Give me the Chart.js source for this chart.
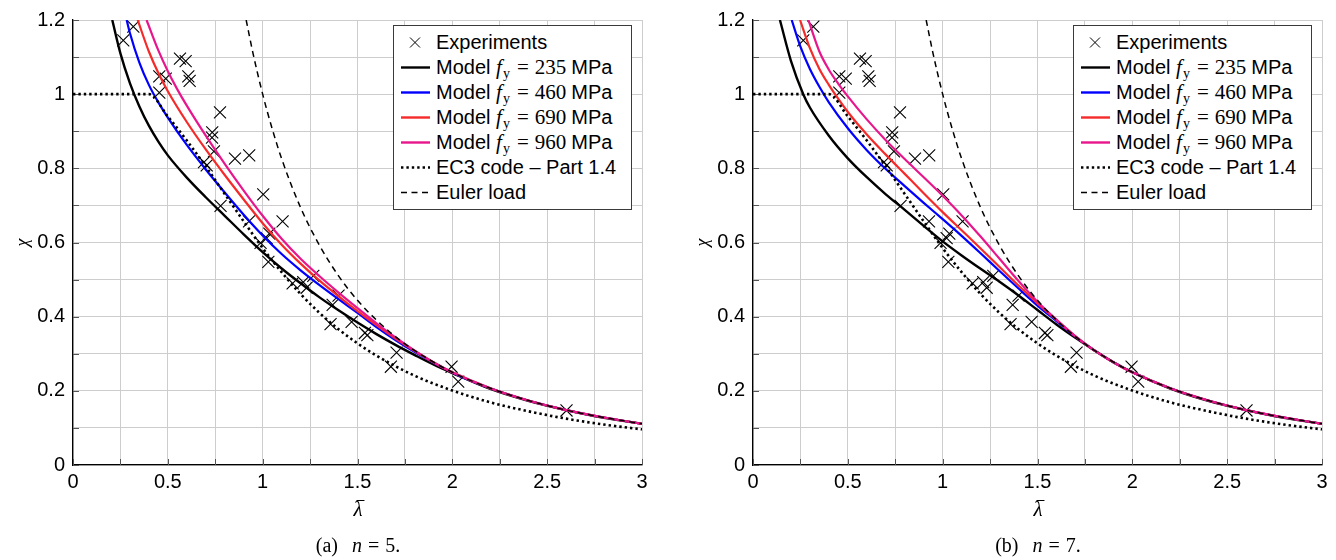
<!DOCTYPE html>
<html><head><meta charset="utf-8">
<script src="https://cdn.jsdelivr.net/npm/chart.js@4.4.1/dist/chart.umd.min.js"></script>
<style>
html,body{margin:0;padding:0;background:#fff}
body{width:1336px;height:560px;overflow:hidden;position:relative;font-family:'Liberation Sans',Arial,sans-serif;color:#000}
.wrap{position:absolute;top:0;height:560px}
.legend{position:absolute;top:25px;width:237px;height:183px;border:1px solid #3a3a3a;background:#fff}
.row{position:absolute;left:0;height:25px;line-height:25px;font-size:20px;white-space:nowrap}
.row svg{position:absolute;left:0;top:0}
.row .t{position:absolute;left:42px;top:0}
.m{font-family:'Liberation Serif','DejaVu Serif',serif;font-size:21px}
.m sub{font-size:14px;vertical-align:-4px;line-height:0;margin-left:1px}
.m .eq{margin:0 6px 0 7px}
.mpa{margin-left:5px}
.cap{position:absolute;top:534px;font-family:'Liberation Serif',serif;font-size:20px;line-height:22px;transform:translateX(-50%);white-space:nowrap}
.cap .n{margin-left:14px}
.cap .ceq{margin:0 6px}
.xt{position:absolute;top:497px;transform:translateX(-50%);font-family:'Liberation Serif',serif;font-style:italic;font-size:21px;line-height:24px}
.lam{position:relative;display:inline-block}
.bar{position:absolute;left:3px;width:8px;top:3px;border-top:1.3px solid #000}
</style></head>
<body>
<div class="wrap" id="w1" style="left:0;width:680px"><canvas id="c1" width="680" height="560"></canvas></div>
<div class="wrap" id="w2" style="left:680px;width:656px"><canvas id="c2" width="656" height="560"></canvas></div>
<div class="xt" style="left:358px"><span class="lam">λ<span class="bar"></span></span></div>
<div class="xt" style="left:1038px"><span class="lam">λ<span class="bar"></span></span></div>
<div class="cap" style="left:358px">(a)<i class="n">n</i><span class="ceq">=</span>5.</div>
<div class="cap" style="left:1038px">(b)<i class="n">n</i><span class="ceq">=</span>7.</div>
<script>
// ---- axis ticks ----
const xGrid = [0,0.25,0.5,0.75,1,1.25,1.5,1.75,2,2.25,2.5,2.75,3];
const yGrid = [0,0.1,0.2,0.3,0.4,0.5,0.6,0.7,0.8,0.9,1,1.1,1.2];
const xTickValues = [0,0.5,1,1.5,2,2.5,3];
const xTickLabels = ['0','0.5','1','1.5','2','2.5','3'];
const yTickValues = [0,0.2,0.4,0.6,0.8,1,1.2];
const yTickLabels = ['0','0.2','0.4','0.6','0.8','1','1.2'];

// ---- experiments (same in both panels) ----
const expLambda = [0.265,0.318,0.564,0.594,0.455,0.489,0.608,0.615,0.455,0.775,0.734,0.733,0.743,0.691,0.705,0.854,0.929,0.778,1.003,1.105,0.928,1.035,1.021,0.989,1.03,1.158,1.214,1.232,1.267,1.369,1.358,1.4,1.469,1.539,1.552,1.706,1.676,1.996,2.031,2.602];
const expChi    = [1.145,1.182,1.096,1.089,1.048,1.042,1.048,1.036,1.004,0.951,0.897,0.883,0.846,0.817,0.808,0.826,0.835,0.699,0.73,0.657,0.657,0.624,0.612,0.599,0.548,0.49,0.493,0.478,0.51,0.432,0.38,0.457,0.386,0.356,0.35,0.303,0.265,0.265,0.225,0.147];

// ---- EC3 code - Part 1.4 ----
const ec3Lambda = [0,0.4,0.5,0.6,0.7,0.8,0.9,1.0,1.1,1.2,1.3,1.4,1.5,1.6,1.8,2.0,2.2,2.4,2.6,2.8,3.0];
const ec3Chi    = [1,1,0.94,0.875,0.805,0.731,0.657,0.585,0.52,0.461,0.41,0.366,0.328,0.295,0.241,0.201,0.169,0.145,0.125,0.109,0.096];

// ---- Euler load ----
const eulerLambda = [0.913,0.95,1.0,1.05,1.1,1.2,1.3,1.4,1.5,1.6,1.7,1.8,2.0,2.2,2.4,2.6,2.8,3.0];
const eulerChi    = [1.2,1.108,1.0,0.907,0.826,0.694,0.592,0.51,0.444,0.391,0.346,0.309,0.25,0.207,0.174,0.148,0.128,0.111];

// ---- Models, n = 5 ----
const n5BlackLambda = [0.207,0.25,0.3,0.35,0.4,0.45,0.5,0.6,0.7,0.8,0.9,1.0,1.1,1.2,1.3,1.4,1.5,1.6,1.7,1.8,1.9,2.0,2.2,2.4,2.6,2.8,3.0];
const n5BlackChi    = [1.2,1.11,1.03,0.967,0.915,0.872,0.835,0.775,0.722,0.672,0.622,0.574,0.53,0.49,0.452,0.417,0.384,0.353,0.324,0.297,0.271,0.248,0.205,0.173,0.148,0.127,0.111];
const n5BlueLambda  = [0.283,0.3,0.35,0.4,0.45,0.5,0.6,0.7,0.8,0.9,1.0,1.1,1.2,1.3,1.4,1.5,1.6,1.7,1.8,1.9,2.0,2.2,2.4,2.6,2.8,3.0];
const n5BlueChi     = [1.2,1.165,1.085,1.025,0.978,0.937,0.863,0.797,0.735,0.675,0.619,0.569,0.525,0.485,0.447,0.41,0.372,0.337,0.305,0.276,0.249,0.207,0.174,0.148,0.128,0.111];
const n5RedLambda   = [0.341,0.4,0.45,0.5,0.6,0.7,0.8,0.9,1.0,1.1,1.2,1.3,1.4,1.5,1.6,1.7,1.8,1.9,2.0,2.2,2.4,2.6,2.8,3.0];
const n5RedChi      = [1.2,1.115,1.057,1.008,0.925,0.851,0.782,0.716,0.652,0.594,0.543,0.497,0.455,0.415,0.377,0.341,0.308,0.277,0.25,0.207,0.174,0.148,0.128,0.111];
const n5PinkLambda  = [0.388,0.45,0.5,0.55,0.6,0.7,0.8,0.9,1.0,1.1,1.2,1.3,1.4,1.5,1.6,1.7,1.8,1.9,2.0,2.2,2.4,2.6,2.8,3.0];
const n5PinkChi     = [1.2,1.118,1.062,1.013,0.969,0.888,0.812,0.74,0.672,0.61,0.556,0.509,0.465,0.423,0.382,0.344,0.309,0.277,0.25,0.207,0.174,0.148,0.128,0.111];

// ---- Models, n = 7 ----
const n7BlackLambda = [0.142,0.2,0.265,0.3,0.4,0.5,0.6,0.7,0.8,0.9,1.0,1.1,1.2,1.3,1.4,1.5,1.6,1.7,1.8,1.9,2.0,2.2,2.4,2.6,2.8,3.0];
const n7BlackChi    = [1.2,1.09,1.0,0.964,0.888,0.827,0.776,0.73,0.688,0.645,0.603,0.565,0.529,0.494,0.457,0.418,0.379,0.343,0.309,0.277,0.25,0.206,0.173,0.148,0.127,0.111];
const n7BlueLambda  = [0.204,0.25,0.3,0.35,0.4,0.5,0.6,0.7,0.8,0.9,1.0,1.1,1.2,1.3,1.4,1.5,1.6,1.7,1.8,1.9,2.0,2.2,2.4,2.6,2.8,3.0];
const n7BlueChi     = [1.2,1.128,1.068,1.02,0.978,0.908,0.849,0.798,0.752,0.707,0.663,0.618,0.571,0.523,0.476,0.43,0.388,0.346,0.309,0.277,0.25,0.207,0.174,0.148,0.128,0.111];
const n7RedLambda   = [0.248,0.3,0.35,0.4,0.45,0.5,0.6,0.7,0.8,0.9,1.0,1.1,1.2,1.3,1.4,1.5,1.6,1.7,1.8,1.9,2.0,2.2,2.4,2.6,2.8,3.0];
const n7RedChi      = [1.2,1.124,1.068,1.025,0.987,0.952,0.891,0.837,0.785,0.733,0.682,0.633,0.584,0.534,0.484,0.436,0.391,0.347,0.309,0.277,0.25,0.207,0.174,0.148,0.128,0.111];
const n7PinkLambda  = [0.292,0.35,0.4,0.45,0.5,0.6,0.7,0.8,0.9,1.0,1.1,1.2,1.3,1.4,1.5,1.6,1.7,1.8,1.9,2.0,2.2,2.4,2.6,2.8,3.0];
const n7PinkChi     = [1.2,1.115,1.066,1.028,0.994,0.932,0.876,0.825,0.776,0.726,0.673,0.616,0.556,0.496,0.44,0.392,0.347,0.309,0.277,0.25,0.207,0.174,0.148,0.128,0.111];

// ---- legend ----
const fyValues = ['235','460','690','960'];
const modelColors = ['#000000','#0000ff','#f52a2a','#e8168c'];

function pts(xs, ys){ return xs.map((x,i)=>({x:x, y:ys[i]})); }
function lab(v, vals, labs){ const i = vals.findIndex(t=>Math.abs(t-v)<1e-6); return i>=0 ? labs[i] : ''; }
function curve(label, xs, ys, color, width, dash, order){
  return {label, data: pts(xs,ys), borderColor: color, backgroundColor: color, borderWidth: width,
    borderDash: dash || [], pointRadius: 0, pointHoverRadius: 0, cubicInterpolationMode: 'monotone',
    fill: false, order, borderCapStyle: 'butt'};
}

const innerTicks = {
  id: 'innerTicks',
  beforeDatasetsDraw(chart){
    const {ctx, chartArea:a, scales:{x, y}} = chart;
    ctx.save(); ctx.strokeStyle = '#555'; ctx.lineWidth = 1;
    ctx.beginPath();
    xGrid.forEach(v=>{ const px = Math.round(x.getPixelForValue(v))+0.5; ctx.moveTo(px, a.bottom); ctx.lineTo(px, a.bottom-6); });
    yGrid.forEach(v=>{ const py = Math.round(y.getPixelForValue(v))+0.5; ctx.moveTo(a.left, py); ctx.lineTo(a.left+6, py); });
    ctx.stroke(); ctx.restore();
  }
};

function makeChart(id, padRight, models){
  const datasets = [
    {label:'Experiments', data: pts(expLambda, expChi), showLine:false, pointStyle:'crossRot',
     pointRadius:8.5, pointBorderColor:'#000', pointBorderWidth:1.1, borderColor:'#000', order:7},
    curve('Model 235', models[0][0], models[0][1], modelColors[0], 2.4, null, 6),
    curve('Model 460', models[1][0], models[1][1], modelColors[1], 2.2, null, 5),
    curve('Model 690', models[2][0], models[2][1], modelColors[2], 2.2, null, 4),
    curve('Model 960', models[3][0], models[3][1], modelColors[3], 2.2, null, 3),
    curve('EC3 code – Part 1.4', ec3Lambda, ec3Chi, '#000', 2.6, [2.4,3.0], 2),
    curve('Euler load', eulerLambda, eulerChi, '#000', 1.5, [6,4.5], 1)
  ];
  return new Chart(document.getElementById(id), {
    type:'line',
    data:{datasets},
    options:{
      responsive:false, animation:false, devicePixelRatio:1,
      layout:{padding:{left:0, right:padRight, top:16, bottom:35}},
      plugins:{legend:{display:false}, tooltip:{enabled:false}},
      scales:{
        x:{type:'linear', min:0, max:3,
           afterBuildTicks:s=>{ s.ticks = xGrid.map(v=>({value:v})); },
           afterFit:s=>{ s.height = 60; },
           ticks:{autoSkip:false, maxRotation:0, padding:5, color:'#000',
                  font:{family:'Liberation Sans', size:20}, callback:v=>lab(v,xTickValues,xTickLabels)},
           grid:{color:'#cdcdcd', lineWidth:1, drawTicks:false},
           border:{color:'#000', width:1.3}},
        y:{type:'linear', min:0, max:1.2,
           afterBuildTicks:s=>{ s.ticks = yGrid.map(v=>({value:v})); },
           afterFit:s=>{ s.width = 73; },
           ticks:{autoSkip:false, padding:8, color:'#000',
                  font:{family:'Liberation Sans', size:20}, callback:v=>lab(v,yTickValues,yTickLabels)},
           grid:{color:'#cdcdcd', lineWidth:1, drawTicks:false},
           border:{color:'#000', width:1.3},
           title:{display:true, text:'χ', color:'#000', font:{family:'Liberation Serif', size:18, style:'italic'}, padding:{top:12,bottom:0}}}
      }
    },
    plugins:[innerTicks]
  });
}

makeChart('c1', 38, [[n5BlackLambda,n5BlackChi],[n5BlueLambda,n5BlueChi],[n5RedLambda,n5RedChi],[n5PinkLambda,n5PinkChi]]);
makeChart('c2', 14, [[n7BlackLambda,n7BlackChi],[n7BlueLambda,n7BlueChi],[n7RedLambda,n7RedChi],[n7PinkLambda,n7PinkChi]]);

function buildLegend(wrapId){
  const box = document.createElement('div');
  box.className = 'legend'; box.style.left = '393px';
  const rows = [];
  rows.push({svg:'<line x1="16" y1="7.5" x2="26" y2="17.5" stroke="#000" stroke-width="1"/><line x1="26" y1="7.5" x2="16" y2="17.5" stroke="#000" stroke-width="1"/>', html:'Experiments'});
  fyValues.forEach((fy,i)=>{
    rows.push({svg:'<line x1="7" y1="12.5" x2="36" y2="12.5" stroke="'+modelColors[i]+'" stroke-width="2.4"/>',
      html:'Model <span class="m"><i>f</i><sub>y</sub><span class="eq">=</span>'+fy+'</span><span class="mpa">MPa</span>'});
  });
  rows.push({svg:'<line x1="7" y1="12.5" x2="36" y2="12.5" stroke="#000" stroke-width="2.6" stroke-dasharray="2.4 3"/>', html:'EC3 code – Part 1.4'});
  rows.push({svg:'<line x1="7" y1="12.5" x2="36" y2="12.5" stroke="#000" stroke-width="1.5" stroke-dasharray="6 4.5"/>', html:'Euler load'});
  rows.forEach((r,i)=>{
    const d = document.createElement('div'); d.className='row'; d.style.top = (4+i*25)+'px';
    d.innerHTML = '<svg width="40" height="25">'+r.svg+'</svg><span class="t">'+r.html+'</span>';
    box.appendChild(d);
  });
  document.getElementById(wrapId).appendChild(box);
}
buildLegend('w1'); buildLegend('w2');
</script>
</body></html>
